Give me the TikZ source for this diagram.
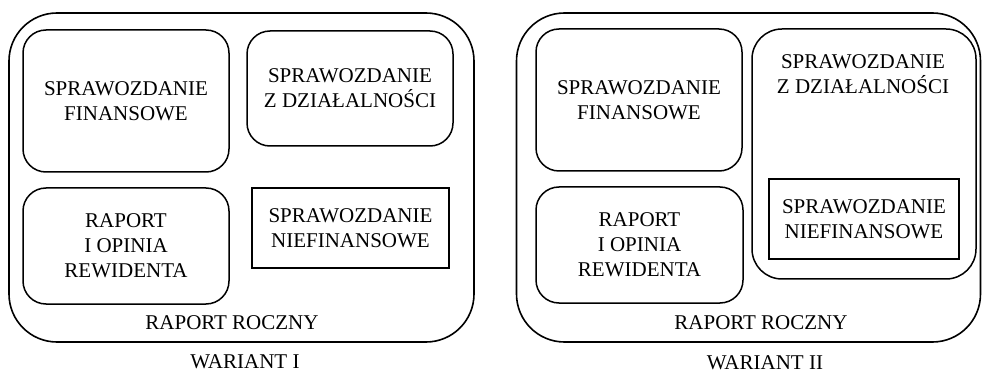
\documentclass[tikz,border=0pt]{standalone}
\usepackage{fontspec}
\setmainfont{Liberation Serif}
\begin{document}
\begin{tikzpicture}[x=1pt,y=-1pt,
  txt/.style={inner sep=0pt, align=center, font=\fontsize{21}{25}\selectfont},
  box/.style={txt, draw, line width=1.5pt, rounded corners=23pt},
  bigbox/.style={box, rounded corners=30pt},
  sqbox/.style={txt, draw, line width=1.5pt, sharp corners},
  outerbox/.style={draw, line width=1.6pt, rounded corners=48pt, inner sep=0pt}]
\useasboundingbox (0,0) rectangle (983,374);
% ---- Wariant I ----
\node[outerbox, minimum width=465pt, minimum height=329pt] (outer1) at (241.5,177.5) {};
\node[box, minimum width=206pt, minimum height=142pt] (sf1) at (126,101) {SPRAWOZDANIE\\FINANSOWE};
\node[box, minimum width=206pt, minimum height=115pt] (szd1) at (350,88.5) {SPRAWOZDANIE\\Z DZIAŁALNOŚCI};
\node[box, minimum width=206pt, minimum height=116pt] (rap1) at (126,246) {RAPORT\\I OPINIA\\REWIDENTA};
\node[sqbox, minimum width=197pt, minimum height=80pt] (sn1) at (350.5,228) {SPRAWOZDANIE\\NIEFINANSOWE};
\node[txt] (rr1) at (232,323) {RAPORT ROCZNY};
\node[txt] (w1) at (245,362) {WARIANT I};
% ---- Wariant II ----
\node[outerbox, minimum width=464pt, minimum height=329pt] (outer2) at (748.5,177.5) {};
\node[box, minimum width=206pt, minimum height=142pt] (sf2) at (639,100) {SPRAWOZDANIE\\FINANSOWE};
\node[box, minimum width=207pt, minimum height=116pt] (rap2) at (639.5,245) {RAPORT\\I OPINIA\\REWIDENTA};
\node[bigbox, minimum width=224pt, minimum height=250pt] (szd2) at (864,154) {};
\node[txt] (szd2t) at (863,74) {SPRAWOZDANIE\\Z DZIAŁALNOŚCI};
\node[sqbox, minimum width=190pt, minimum height=80pt] (sn2) at (864,219) {SPRAWOZDANIE\\NIEFINANSOWE};
\node[txt] (rr2) at (761,323) {RAPORT ROCZNY};
\node[txt] (w2) at (765,363) {WARIANT II};
\end{tikzpicture}
\end{document}
